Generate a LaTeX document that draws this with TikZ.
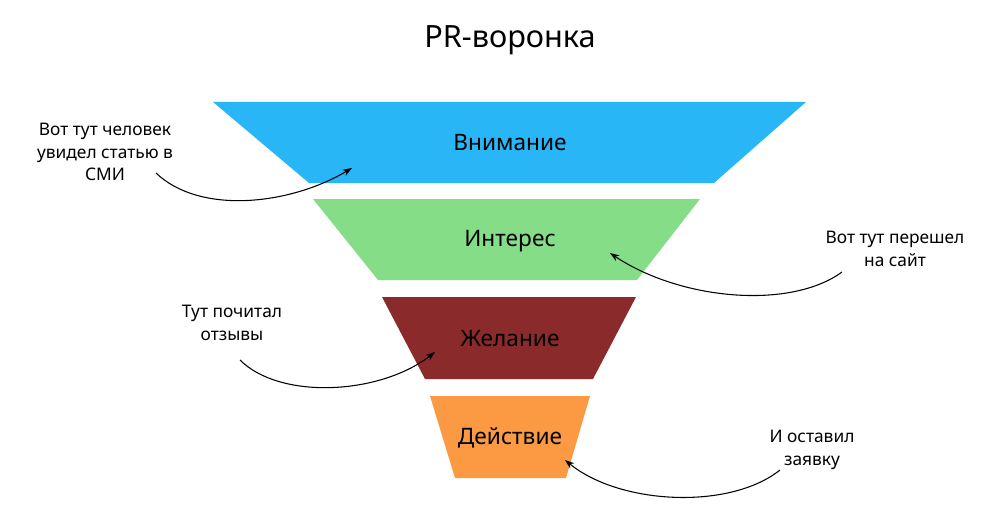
\documentclass[tikz,border=0pt]{standalone}
\usepackage{fontspec}
\setmainfont{Noto Sans}
\usetikzlibrary{arrows.meta}
\definecolor{c1}{HTML}{29B6F6}
\definecolor{c2}{HTML}{86DD88}
\definecolor{c3}{HTML}{8B2A2A}
\definecolor{c4}{HTML}{FB9A43}
\tikzset{
  lbl/.style={font=\fontsize{17}{20}\selectfont, text=black},
  note/.style={font=\fontsize{13}{17}\selectfont, align=center, text=black},
  arr/.style={-{Stealth[length=7pt,width=5pt]}, line width=0.8pt}
}
\begin{document}
\begin{tikzpicture}[x=0.75pt,y=-0.75pt]
\useasboundingbox[fill=white] (0,0) rectangle (1000,510);
\node[font=\bfseries\fontsize{23}{26}\selectfont] (title) at (510,40) {PR-воронка};
\fill[c1] (213,102) -- (806,102) -- (714,183) -- (309,183) -- cycle;
\fill[c2] (313,199) -- (700,199) -- (637,280) -- (378,280) -- cycle;
\fill[c3] (382,297) -- (636,297) -- (593,379) -- (425,379) -- cycle;
\fill[c4] (430,396) -- (590,396) -- (566,478) -- (455,478) -- cycle;
\node[lbl] (l1) at (510,143) {Внимание};
\node[lbl] (l2) at (510,241) {Интерес};
\node[lbl] (l3) at (510,339) {Желание};
\node[lbl] (l4) at (510,438) {Действие};
\node[note] (n1) at (105,152) {Вот тут человек\\увидел статью в\\СМИ};
\node[note] (n2) at (895,249) {Вот тут перешел\\на сайт};
\node[note] (n3) at (232,323) {Тут почитал\\отзывы};
\node[note] (n4) at (812,450) {И оставил\\заявку};
\coordinate (s1) at (156,173); \coordinate (e1) at (352,168);
\coordinate (s2) at (842,272); \coordinate (e2) at (610,253);
\coordinate (s3) at (240,360); \coordinate (e3) at (435,352);
\coordinate (s4) at (780,470); \coordinate (e4) at (565,460);
\draw[arr] (s1) .. controls (200,215) and (290,205) .. (e1);
\draw[arr] (s2) .. controls (790,310) and (680,300) .. (e2);
\draw[arr] (s3) .. controls (280,400) and (380,395) .. (e3);
\draw[arr] (s4) .. controls (730,510) and (620,505) .. (e4);
\end{tikzpicture}
\end{document}
